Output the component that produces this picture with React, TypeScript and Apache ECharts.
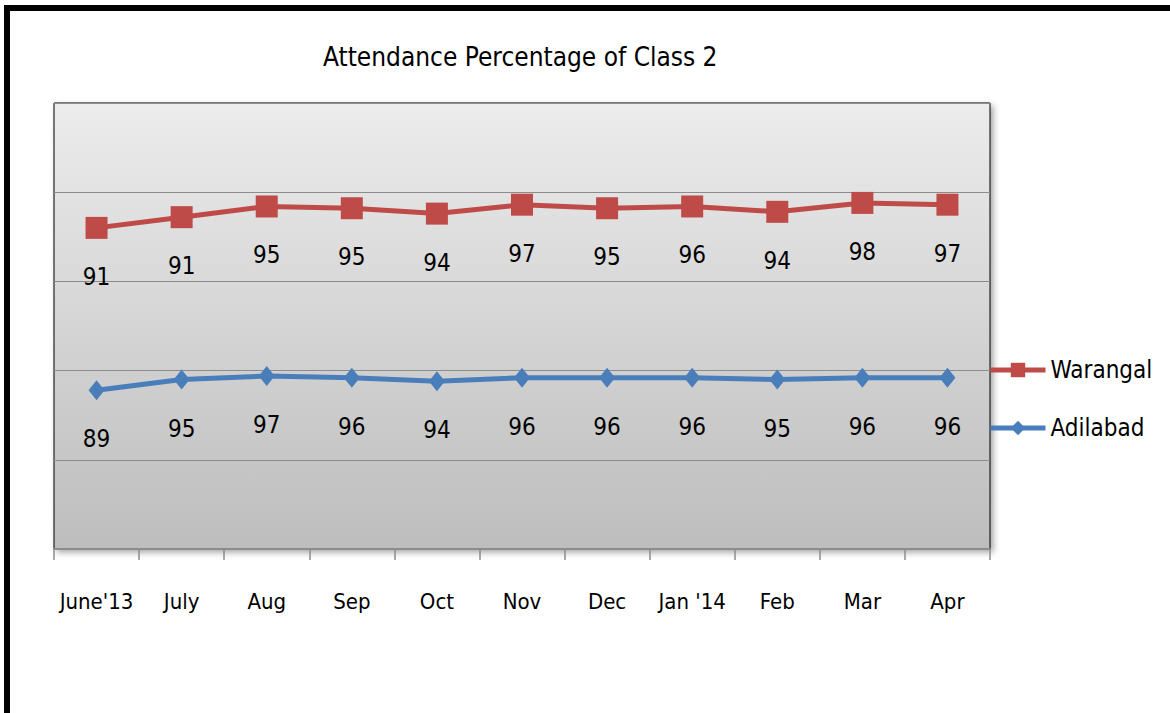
import React, { useEffect, useRef } from "react";
import * as echarts from "echarts";

const categories = ["June'13", "July", "Aug", "Sep", "Oct", "Nov", "Dec", "Jan '14", "Feb", "Mar", "Apr"];
const adilabad = [89, 95, 97, 96, 94, 96, 96, 96, 95, 96, 96];
const warangal = [91, 91, 95, 95, 94, 97, 95, 96, 94, 98, 97];
const titleText = "Attendance Percentage of Class 2";

const FONT = "'Liberation Sans Narrow', 'Arial Narrow', 'DejaVu Sans Condensed', sans-serif";

export default function App() {
  const ref = useRef<HTMLDivElement>(null);
  useEffect(() => {
    if (!ref.current) return;
    const chart = echarts.init(ref.current, undefined, { renderer: "svg" });
    chart.setOption({
      animation: false,
      backgroundColor: "#ffffff",
      title: {
        text: titleText,
        left: 318,
        top: 39,
        textStyle: { fontFamily: FONT, fontSize: 26, fontWeight: "normal", color: "#000" },
      },
      legend: {
        orient: "vertical",
        left: 988,
        top: 358,
        padding: 0,
        itemWidth: 55,
        itemHeight: 18,
        itemGap: 34,
        data: ["Warangal", "Adilabad"],
        lineStyle: { width: 5 },
        textStyle: { fontFamily: FONT, fontSize: 24, color: "#000" },
      },
      grid: {
        left: 54,
        top: 103,
        right: 180,
        bottom: 164,
        show: true,
        borderColor: "#000",
        borderWidth: 1,
        backgroundColor: new echarts.graphic.LinearGradient(0, 0, 0, 1, [
          { offset: 0, color: "#ececec" },
          { offset: 1, color: "#bdbdbd" },
        ]),
        shadowBlur: 6,
        shadowColor: "rgba(0,0,0,0.35)",
        shadowOffsetX: 3,
        shadowOffsetY: 3,
      },
      xAxis: {
        type: "category",
        data: categories,
        boundaryGap: true,
        axisLine: { lineStyle: { color: "#8c8c8c", width: 2 } },
        axisTick: { show: true, length: 11, lineStyle: { color: "#8c8c8c", width: 1.5 } },
        axisLabel: { fontFamily: FONT, fontSize: 22, color: "#000", margin: 41, interval: 0 },
      },
      yAxis: {
        type: "value",
        min: 0,
        max: 250,
        interval: 50,
        axisLabel: { show: false },
        axisLine: { show: false },
        axisTick: { show: false },
        splitLine: { lineStyle: { color: "#8c8c8c", width: 1.2 } },
      },
      series: [
        {
          name: "Adilabad",
          type: "line",
          stack: "total",
          data: adilabad,
          symbol: "diamond",
          symbolSize: [16, 20],
          lineStyle: { color: "#4a7ebb", width: 5 },
          itemStyle: { color: "#4a7ebb" },
          label: {
            show: true,
            position: "bottom",
            distance: 27,
            fontFamily: FONT,
            fontSize: 24,
            color: "#000",
          },
        },
        {
          name: "Warangal",
          type: "line",
          stack: "total",
          data: warangal,
          symbol: "rect",
          symbolSize: 22,
          lineStyle: { color: "#be4b48", width: 5 },
          itemStyle: { color: "#be4b48" },
          label: {
            show: true,
            position: "bottom",
            distance: 26,
            fontFamily: FONT,
            fontSize: 24,
            color: "#000",
          },
        },
      ],
      graphic: [
        { type: "rect", shape: { x: 4, y: 5, width: 1166, height: 6 }, style: { fill: "#000" } },
        { type: "rect", shape: { x: 4, y: 5, width: 6, height: 708 }, style: { fill: "#000" } },
      ],
    });
    return () => chart.dispose();
  }, []);
  return <div ref={ref} style={{ position: "fixed", left: 0, top: 0, width: 1170, height: 713 }} />;
}
